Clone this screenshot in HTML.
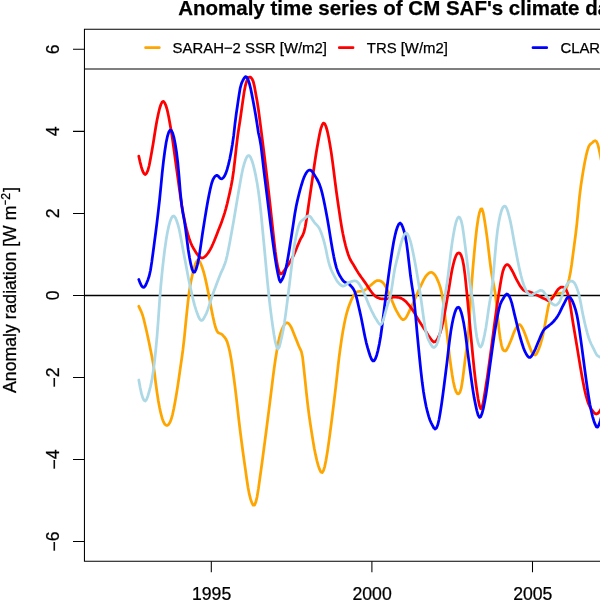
<!DOCTYPE html>
<html><head><meta charset="utf-8">
<style>
html,body{margin:0;padding:0;background:#fff;}
body{width:600px;height:600px;overflow:hidden;}
svg{display:block;will-change:transform;}
text{font-family:"Liberation Sans",sans-serif;fill:#000;stroke:#000;stroke-width:0.25;}
.ax{stroke:#000;stroke-width:1.05;fill:none;}
.cv{fill:none;stroke-width:2.75;stroke-linejoin:round;stroke-linecap:round;}
</style></head>
<body>
<svg width="600" height="600" viewBox="0 0 600 600">
<rect width="600" height="600" fill="#fff"/>
<!-- title -->
<text x="178.2" y="15.1" font-size="20.5" font-weight="bold">Anomaly time series of CM SAF's climate data records</text>
<!-- zero line -->
<line x1="84.5" y1="295.4" x2="600" y2="295.4" stroke="#000" stroke-width="1.5"/>
<!-- curves -->
<path class="cv" stroke="#FFA500" d="M138.8,306.3 L140.1,309.1 L141.4,311.9 L142.7,315.5 L144.0,320.2 L145.3,325.7 L146.6,331.3 L147.9,337.2 L149.2,343.3 L150.5,349.7 L151.8,356.0 L153.1,363.0 L154.4,372.0 L155.7,382.9 L157.0,392.4 L158.3,400.7 L159.6,407.8 L160.9,413.7 L162.2,418.4 L163.5,421.9 L164.8,424.2 L166.1,425.3 L167.4,425.4 L168.7,424.4 L170.0,422.3 L171.3,419.0 L172.6,414.3 L173.9,408.3 L175.2,401.3 L176.5,393.8 L177.8,385.6 L179.1,376.7 L180.4,367.6 L181.7,358.7 L183.0,349.2 L184.3,337.8 L185.6,324.5 L186.9,311.8 L188.2,299.9 L189.5,290.0 L190.8,282.2 L192.1,276.0 L193.4,270.6 L194.7,266.0 L196.0,262.5 L197.3,260.4 L198.6,260.1 L199.9,261.8 L201.2,264.8 L202.5,268.3 L203.8,272.5 L205.1,277.7 L206.4,283.4 L207.7,289.6 L209.0,296.0 L210.3,303.1 L211.6,310.2 L212.9,316.6 L214.2,322.3 L215.5,327.3 L216.8,330.8 L218.1,332.6 L219.4,333.3 L220.7,333.7 L222.0,334.4 L223.3,335.9 L224.6,337.3 L225.9,339.1 L227.2,341.9 L228.5,346.3 L229.8,351.8 L231.1,358.8 L232.4,367.2 L233.7,376.7 L235.0,386.6 L236.3,397.3 L237.6,408.8 L238.9,420.3 L240.2,431.2 L241.5,441.3 L242.8,451.0 L244.1,460.4 L245.4,469.4 L246.7,478.7 L248.0,487.3 L249.3,494.2 L250.6,499.2 L251.9,502.9 L253.2,505.2 L254.5,505.1 L255.8,502.1 L257.1,496.8 L258.4,488.9 L259.7,479.5 L261.0,470.3 L262.3,460.8 L263.6,451.0 L264.9,441.1 L266.2,431.2 L267.5,421.0 L268.8,410.8 L270.1,400.6 L271.4,390.2 L272.7,379.6 L274.0,369.4 L275.3,360.3 L276.6,352.1 L277.9,344.6 L279.2,338.4 L280.5,333.5 L281.8,329.8 L283.1,326.9 L284.4,324.7 L285.7,323.2 L287.0,322.7 L288.3,323.2 L289.6,324.6 L290.9,326.7 L292.2,329.4 L293.5,332.7 L294.8,336.1 L296.1,339.3 L297.4,342.4 L298.7,345.8 L300.0,348.7 L301.3,351.3 L302.6,357.3 L303.9,368.8 L305.2,381.2 L306.5,393.7 L307.8,405.1 L309.1,415.4 L310.4,424.4 L311.7,432.7 L313.0,440.9 L314.3,448.4 L315.6,454.9 L316.9,460.6 L318.2,465.4 L319.5,469.2 L320.8,472.0 L322.1,472.6 L323.4,470.8 L324.7,466.6 L326.0,460.3 L327.3,452.6 L328.6,443.6 L329.9,434.1 L331.2,424.3 L332.5,414.0 L333.8,403.4 L335.1,392.6 L336.4,381.3 L337.7,369.5 L339.0,358.2 L340.3,348.2 L341.6,339.3 L342.9,331.3 L344.2,324.2 L345.5,318.0 L346.8,312.8 L348.1,308.5 L349.4,304.7 L350.7,301.4 L352.0,298.6 L353.3,296.2 L354.6,294.2 L355.9,292.8 L357.2,291.9 L358.5,291.5 L359.8,291.3 L361.1,291.2 L362.4,291.0 L363.7,290.7 L365.0,290.0 L366.3,289.0 L367.6,287.9 L368.9,286.8 L370.2,285.7 L371.5,284.6 L372.8,283.5 L374.1,282.4 L375.4,281.4 L376.7,280.7 L378.0,280.5 L379.3,280.6 L380.6,281.0 L381.9,281.8 L383.2,283.0 L384.5,284.6 L385.8,286.8 L387.1,289.5 L388.4,292.3 L389.7,295.2 L391.0,298.2 L392.3,301.4 L393.6,304.6 L394.9,307.7 L396.2,310.3 L397.5,312.7 L398.8,315.0 L400.1,317.0 L401.4,318.6 L402.7,319.5 L404.0,319.5 L405.3,318.5 L406.6,316.7 L407.9,314.2 L409.2,311.4 L410.5,308.6 L411.8,306.0 L413.1,303.2 L414.4,300.3 L415.7,297.3 L417.0,294.2 L418.3,291.3 L419.6,288.4 L420.9,285.7 L422.2,282.9 L423.5,280.2 L424.8,277.8 L426.1,275.9 L427.4,274.4 L428.7,273.2 L430.0,272.5 L431.3,272.3 L432.6,272.8 L433.9,273.8 L435.2,275.4 L436.5,277.6 L437.8,280.6 L439.1,283.8 L440.4,287.6 L441.7,292.9 L443.0,300.4 L444.3,310.3 L445.6,321.2 L446.9,332.4 L448.2,344.3 L449.5,355.7 L450.8,365.5 L452.1,374.4 L453.4,382.0 L454.7,387.6 L456.0,391.5 L457.3,393.6 L458.6,393.9 L459.9,392.4 L461.2,388.4 L462.5,380.6 L463.8,370.4 L465.1,359.6 L466.4,350.4 L467.7,340.5 L469.0,325.7 L470.3,304.0 L471.6,284.7 L472.9,268.2 L474.2,253.3 L475.5,239.7 L476.8,228.0 L478.1,219.1 L479.4,212.7 L480.7,209.2 L482.0,208.9 L483.3,212.9 L484.6,220.4 L485.9,229.0 L487.2,238.4 L488.5,249.2 L489.8,260.3 L491.1,270.3 L492.4,278.2 L493.7,284.8 L495.0,292.2 L496.3,302.2 L497.6,315.8 L498.9,328.8 L500.2,338.3 L501.5,345.3 L502.8,349.5 L504.1,350.8 L505.4,351.0 L506.7,349.7 L508.0,347.2 L509.3,344.2 L510.6,341.3 L511.9,337.9 L513.2,334.3 L514.5,331.1 L515.8,328.6 L517.1,326.4 L518.4,324.9 L519.7,324.5 L521.0,325.7 L522.3,327.9 L523.6,330.5 L524.9,333.7 L526.2,337.3 L527.5,341.0 L528.8,344.5 L530.1,348.0 L531.4,351.2 L532.7,353.5 L534.0,354.8 L535.3,355.0 L536.6,353.7 L537.9,351.1 L539.2,347.9 L540.5,344.2 L541.8,339.7 L543.1,334.2 L544.4,327.7 L545.7,320.8 L547.0,313.6 L548.3,306.6 L549.6,301.5 L550.9,298.6 L552.2,297.0 L553.5,295.6 L554.8,294.5 L556.1,294.0 L557.4,293.8 L558.7,293.6 L560.0,293.3 L561.3,293.0 L562.6,292.8 L563.9,291.9 L565.2,290.2 L566.5,287.9 L567.8,284.2 L569.1,279.1 L570.4,272.6 L571.7,264.3 L573.0,254.4 L574.3,244.6 L575.6,234.7 L576.9,223.6 L578.2,210.3 L579.5,196.9 L580.8,186.3 L582.1,177.8 L583.4,169.8 L584.7,162.5 L586.0,156.2 L587.3,150.9 L588.6,146.8 L589.9,144.6 L591.2,143.5 L592.5,142.5 L593.8,141.2 L595.1,140.7 L596.4,141.4 L597.7,144.0 L599.0,149.1 L600.3,155.2 L601.6,162.0 L602.9,169.2"/>
<path class="cv" stroke="#FF0000" d="M138.8,156.2 L140.1,162.1 L141.4,167.2 L142.7,171.1 L144.0,173.7 L145.3,174.5 L146.6,173.3 L147.9,170.4 L149.2,165.5 L150.5,158.7 L151.8,151.4 L153.1,143.9 L154.4,135.7 L155.7,127.5 L157.0,120.2 L158.3,114.0 L159.6,108.5 L160.9,104.5 L162.2,101.9 L163.5,101.3 L164.8,103.0 L166.1,106.1 L167.4,110.7 L168.7,116.8 L170.0,123.9 L171.3,131.5 L172.6,140.0 L173.9,149.4 L175.2,158.9 L176.5,168.2 L177.8,177.6 L179.1,187.1 L180.4,196.4 L181.7,204.9 L183.0,212.5 L184.3,219.2 L185.6,225.3 L186.9,230.7 L188.2,235.5 L189.5,239.6 L190.8,243.0 L192.1,245.8 L193.4,248.2 L194.7,250.4 L196.0,252.5 L197.3,254.4 L198.6,255.9 L199.9,257.1 L201.2,257.8 L202.5,258.0 L203.8,257.5 L205.1,256.5 L206.4,255.1 L207.7,253.5 L209.0,251.6 L210.3,249.4 L211.6,246.8 L212.9,244.0 L214.2,241.0 L215.5,237.8 L216.8,234.4 L218.1,231.1 L219.4,227.7 L220.7,224.4 L222.0,220.9 L223.3,217.1 L224.6,213.1 L225.9,208.6 L227.2,203.6 L228.5,198.0 L229.8,192.4 L231.1,186.3 L232.4,179.2 L233.7,170.2 L235.0,159.1 L236.3,147.3 L237.6,136.5 L238.9,127.8 L240.2,119.5 L241.5,110.2 L242.8,101.1 L244.1,92.3 L245.4,85.5 L246.7,81.1 L248.0,78.3 L249.3,77.1 L250.6,77.2 L251.9,78.6 L253.2,81.4 L254.5,86.7 L255.8,93.9 L257.1,101.1 L258.4,109.2 L259.7,119.1 L261.0,129.1 L262.3,139.3 L263.6,149.7 L264.9,160.2 L266.2,170.9 L267.5,181.9 L268.8,193.2 L270.1,204.7 L271.4,216.7 L272.7,228.4 L274.0,240.3 L275.3,251.5 L276.6,260.6 L277.9,267.7 L279.2,271.9 L280.5,274.0 L281.8,273.7 L283.1,272.1 L284.4,270.4 L285.7,268.5 L287.0,266.6 L288.3,264.7 L289.6,262.7 L290.9,260.5 L292.2,258.2 L293.5,255.6 L294.8,252.6 L296.1,249.5 L297.4,246.3 L298.7,243.2 L300.0,240.1 L301.3,237.7 L302.6,235.5 L303.9,232.3 L305.2,227.0 L306.5,219.5 L307.8,210.7 L309.1,201.4 L310.4,192.7 L311.7,183.8 L313.0,174.7 L314.3,165.5 L315.6,156.7 L316.9,148.7 L318.2,141.4 L319.5,134.5 L320.8,128.8 L322.1,125.1 L323.4,123.1 L324.7,123.7 L326.0,126.5 L327.3,131.0 L328.6,137.0 L329.9,144.2 L331.2,152.1 L332.5,161.4 L333.8,171.5 L335.1,181.8 L336.4,191.8 L337.7,201.0 L339.0,209.9 L340.3,218.6 L341.6,226.7 L342.9,233.8 L344.2,239.9 L345.5,245.3 L346.8,250.0 L348.1,254.2 L349.4,257.6 L350.7,260.3 L352.0,262.6 L353.3,264.6 L354.6,266.7 L355.9,269.0 L357.2,271.1 L358.5,273.2 L359.8,275.1 L361.1,277.0 L362.4,278.8 L363.7,280.6 L365.0,282.4 L366.3,284.3 L367.6,286.3 L368.9,288.3 L370.2,290.2 L371.5,292.0 L372.8,293.7 L374.1,295.1 L375.4,296.3 L376.7,297.2 L378.0,297.8 L379.3,298.3 L380.6,298.6 L381.9,298.8 L383.2,298.9 L384.5,299.0 L385.8,299.0 L387.1,298.8 L388.4,298.5 L389.7,298.1 L391.0,297.7 L392.3,297.3 L393.6,297.0 L394.9,297.0 L396.2,297.1 L397.5,297.3 L398.8,297.5 L400.1,297.9 L401.4,298.4 L402.7,299.1 L404.0,300.0 L405.3,301.1 L406.6,302.3 L407.9,303.8 L409.2,305.4 L410.5,307.1 L411.8,308.9 L413.1,310.8 L414.4,312.9 L415.7,315.1 L417.0,317.4 L418.3,319.6 L419.6,321.8 L420.9,323.8 L422.2,325.7 L423.5,327.7 L424.8,329.6 L426.1,331.7 L427.4,333.9 L428.7,336.1 L430.0,337.9 L431.3,339.6 L432.6,341.1 L433.9,342.0 L435.2,341.7 L436.5,340.5 L437.8,338.5 L439.1,335.7 L440.4,332.1 L441.7,327.6 L443.0,321.9 L444.3,315.2 L445.6,308.0 L446.9,300.6 L448.2,293.2 L449.5,285.0 L450.8,276.8 L452.1,269.6 L453.4,264.0 L454.7,259.2 L456.0,255.6 L457.3,253.5 L458.6,252.9 L459.9,253.4 L461.2,255.3 L462.5,259.3 L463.8,265.9 L465.1,275.8 L466.4,288.3 L467.7,301.5 L469.0,315.4 L470.3,329.6 L471.6,343.2 L472.9,356.6 L474.2,369.5 L475.5,380.8 L476.8,390.3 L478.1,398.9 L479.4,405.5 L480.7,408.8 L482.0,407.6 L483.3,402.1 L484.6,394.2 L485.9,385.9 L487.2,377.8 L488.5,368.7 L489.8,359.2 L491.1,349.6 L492.4,339.9 L493.7,329.9 L495.0,320.1 L496.3,310.8 L497.6,301.9 L498.9,293.4 L500.2,285.2 L501.5,277.5 L502.8,271.5 L504.1,267.7 L505.4,265.6 L506.7,264.7 L508.0,264.7 L509.3,265.9 L510.6,268.0 L511.9,270.3 L513.2,272.7 L514.5,275.4 L515.8,278.2 L517.1,280.6 L518.4,282.9 L519.7,285.2 L521.0,287.2 L522.3,288.9 L523.6,290.2 L524.9,291.0 L526.2,291.4 L527.5,291.5 L528.8,291.7 L530.1,292.0 L531.4,292.5 L532.7,293.1 L534.0,293.7 L535.3,294.3 L536.6,295.0 L537.9,295.6 L539.2,296.2 L540.5,296.9 L541.8,297.5 L543.1,298.2 L544.4,298.7 L545.7,299.3 L547.0,300.0 L548.3,300.7 L549.6,300.7 L550.9,299.8 L552.2,298.3 L553.5,296.5 L554.8,294.4 L556.1,292.1 L557.4,290.2 L558.7,288.8 L560.0,287.7 L561.3,287.0 L562.6,287.0 L563.9,287.4 L565.2,288.4 L566.5,290.4 L567.8,293.8 L569.1,298.5 L570.4,305.8 L571.7,314.5 L573.0,322.7 L574.3,330.5 L575.6,338.2 L576.9,345.9 L578.2,353.9 L579.5,361.9 L580.8,369.6 L582.1,376.9 L583.4,383.8 L584.7,390.2 L586.0,395.6 L587.3,400.2 L588.6,404.0 L589.9,406.8 L591.2,409.0 L592.5,410.7 L593.8,412.4 L595.1,413.6 L596.4,414.0 L597.7,413.5 L599.0,412.2 L600.3,410.4 L601.6,408.0 L602.9,405.3"/>
<path class="cv" stroke="#0000FF" d="M138.8,279.5 L140.1,282.9 L141.4,285.6 L142.7,287.2 L144.0,287.4 L145.3,285.9 L146.6,283.1 L147.9,279.9 L149.2,276.0 L150.5,270.2 L151.8,261.9 L153.1,252.2 L154.4,242.4 L155.7,232.5 L157.0,222.2 L158.3,211.2 L159.6,199.5 L160.9,186.4 L162.2,172.9 L163.5,161.2 L164.8,151.2 L166.1,142.8 L167.4,136.5 L168.7,132.3 L170.0,130.2 L171.3,130.3 L172.6,132.8 L173.9,137.4 L175.2,143.7 L176.5,152.0 L177.8,162.7 L179.1,176.9 L180.4,193.1 L181.7,205.4 L183.0,213.5 L184.3,220.4 L185.6,229.0 L186.9,239.3 L188.2,249.5 L189.5,257.5 L190.8,264.2 L192.1,269.3 L193.4,272.2 L194.7,272.2 L196.0,269.5 L197.3,265.1 L198.6,259.4 L199.9,251.6 L201.2,242.6 L202.5,233.5 L203.8,225.3 L205.1,217.1 L206.4,209.2 L207.7,201.8 L209.0,195.1 L210.3,188.8 L211.6,183.5 L212.9,179.7 L214.2,177.4 L215.5,175.9 L216.8,175.3 L218.1,176.0 L219.4,177.5 L220.7,178.7 L222.0,178.8 L223.3,177.7 L224.6,175.9 L225.9,173.1 L227.2,169.2 L228.5,164.4 L229.8,158.7 L231.1,151.9 L232.4,144.5 L233.7,135.4 L235.0,123.7 L236.3,113.5 L237.6,104.8 L238.9,95.9 L240.2,88.1 L241.5,83.4 L242.8,80.5 L244.1,78.1 L245.4,76.6 L246.7,77.0 L248.0,79.4 L249.3,83.2 L250.6,88.3 L251.9,94.6 L253.2,101.6 L254.5,108.6 L255.8,115.9 L257.1,124.1 L258.4,132.8 L259.7,138.5 L261.0,146.0 L262.3,156.9 L263.6,168.4 L264.9,178.8 L266.2,189.2 L267.5,199.6 L268.8,210.1 L270.1,220.6 L271.4,230.8 L272.7,240.8 L274.0,250.4 L275.3,259.1 L276.6,266.9 L277.9,273.8 L279.2,279.5 L280.5,282.0 L281.8,280.0 L283.1,277.5 L284.4,274.1 L285.7,269.4 L287.0,263.1 L288.3,255.8 L289.6,247.8 L290.9,239.6 L292.2,231.3 L293.5,222.6 L294.8,214.0 L296.1,206.7 L297.4,200.6 L298.7,195.2 L300.0,190.2 L301.3,185.5 L302.6,181.3 L303.9,177.6 L305.2,174.7 L306.5,172.5 L307.8,170.9 L309.1,170.1 L310.4,170.1 L311.7,171.0 L313.0,172.7 L314.3,174.8 L315.6,176.9 L316.9,179.0 L318.2,181.5 L319.5,184.4 L320.8,188.2 L322.1,192.9 L323.4,198.5 L324.7,204.8 L326.0,211.6 L327.3,218.6 L328.6,226.1 L329.9,234.1 L331.2,242.2 L332.5,249.7 L333.8,256.6 L335.1,262.7 L336.4,267.6 L337.7,271.4 L339.0,274.3 L340.3,276.6 L341.6,278.6 L342.9,280.5 L344.2,281.8 L345.5,282.5 L346.8,283.0 L348.1,283.5 L349.4,284.3 L350.7,285.7 L352.0,287.1 L353.3,288.8 L354.6,291.3 L355.9,295.1 L357.2,300.1 L358.5,305.7 L359.8,311.4 L361.1,317.3 L362.4,323.7 L363.7,330.4 L365.0,336.9 L366.3,342.8 L367.6,347.7 L368.9,352.0 L370.2,356.0 L371.5,359.2 L372.8,360.9 L374.1,360.8 L375.4,358.8 L376.7,355.2 L378.0,350.3 L379.3,344.1 L380.6,336.7 L381.9,327.5 L383.2,317.2 L384.5,306.7 L385.8,296.8 L387.1,286.8 L388.4,276.9 L389.7,267.4 L391.0,258.5 L392.3,250.0 L393.6,242.3 L394.9,236.0 L396.2,230.7 L397.5,226.8 L398.8,224.0 L400.1,223.0 L401.4,224.2 L402.7,227.0 L404.0,231.0 L405.3,236.2 L406.6,243.4 L407.9,253.3 L409.2,264.7 L410.5,275.8 L411.8,284.9 L413.1,292.9 L414.4,303.1 L415.7,316.9 L417.0,331.6 L418.3,345.2 L419.6,358.5 L420.9,371.0 L422.2,382.3 L423.5,391.7 L424.8,399.6 L426.1,406.2 L427.4,411.7 L428.7,416.4 L430.0,420.2 L431.3,423.1 L432.6,425.6 L433.9,428.0 L435.2,429.1 L436.5,427.9 L437.8,424.7 L439.1,419.3 L440.4,411.7 L441.7,403.2 L443.0,393.8 L444.3,383.8 L445.6,373.5 L446.9,363.1 L448.2,351.9 L449.5,341.0 L450.8,331.6 L452.1,324.0 L453.4,317.8 L454.7,313.0 L456.0,309.6 L457.3,307.6 L458.6,307.2 L459.9,308.7 L461.2,312.2 L462.5,317.2 L463.8,323.6 L465.1,331.6 L466.4,341.5 L467.7,352.1 L469.0,362.1 L470.3,371.6 L471.6,381.1 L472.9,390.1 L474.2,398.1 L475.5,404.6 L476.8,410.5 L478.1,415.1 L479.4,417.4 L480.7,416.8 L482.0,413.6 L483.3,408.6 L484.6,402.3 L485.9,395.1 L487.2,386.2 L488.5,376.5 L489.8,366.8 L491.1,357.5 L492.4,348.0 L493.7,338.7 L495.0,330.3 L496.3,322.6 L497.6,315.5 L498.9,309.3 L500.2,304.5 L501.5,301.4 L502.8,299.2 L504.1,297.0 L505.4,295.0 L506.7,294.0 L508.0,294.6 L509.3,296.4 L510.6,299.3 L511.9,303.4 L513.2,308.8 L514.5,314.4 L515.8,319.7 L517.1,325.1 L518.4,330.5 L519.7,335.5 L521.0,340.0 L522.3,344.3 L523.6,348.2 L524.9,351.4 L526.2,354.0 L527.5,356.0 L528.8,357.3 L530.1,357.4 L531.4,356.2 L532.7,354.2 L534.0,351.8 L535.3,349.1 L536.6,346.0 L537.9,342.7 L539.2,339.7 L540.5,336.6 L541.8,333.6 L543.1,331.0 L544.4,329.2 L545.7,328.0 L547.0,327.1 L548.3,326.1 L549.6,325.0 L550.9,324.0 L552.2,322.9 L553.5,321.5 L554.8,320.0 L556.1,318.4 L557.4,316.5 L558.7,314.4 L560.0,311.9 L561.3,309.1 L562.6,306.4 L563.9,304.0 L565.2,301.3 L566.5,298.8 L567.8,297.1 L569.1,296.8 L570.4,297.7 L571.7,299.7 L573.0,302.4 L574.3,305.8 L575.6,309.9 L576.9,315.1 L578.2,322.0 L579.5,330.6 L580.8,339.9 L582.1,349.4 L583.4,359.3 L584.7,369.1 L586.0,378.7 L587.3,388.0 L588.6,396.5 L589.9,404.2 L591.2,410.8 L592.5,416.3 L593.8,420.7 L595.1,424.2 L596.4,426.9 L597.7,427.2 L599.0,424.7 L600.3,420.9 L601.6,416.0 L602.9,410.6"/>
<path class="cv" stroke="#ADD8E6" d="M138.8,380.0 L140.1,387.3 L141.4,393.4 L142.7,397.7 L144.0,400.3 L145.3,401.0 L146.6,399.3 L147.9,395.9 L149.2,391.5 L150.5,386.5 L151.8,380.4 L153.1,372.6 L154.4,362.6 L155.7,350.6 L157.0,336.6 L158.3,319.8 L159.6,300.9 L160.9,284.9 L162.2,271.4 L163.5,259.6 L164.8,249.1 L166.1,240.1 L167.4,232.5 L168.7,226.4 L170.0,221.7 L171.3,218.3 L172.6,216.4 L173.9,216.0 L175.2,217.4 L176.5,220.3 L177.8,224.2 L179.1,229.0 L180.4,235.2 L181.7,242.2 L183.0,249.4 L184.3,256.3 L185.6,263.1 L186.9,270.1 L188.2,276.9 L189.5,283.4 L190.8,289.4 L192.1,295.2 L193.4,300.6 L194.7,305.6 L196.0,309.9 L197.3,313.6 L198.6,317.0 L199.9,319.4 L201.2,320.5 L202.5,320.1 L203.8,318.4 L205.1,315.9 L206.4,313.3 L207.7,310.0 L209.0,306.1 L210.3,301.9 L211.6,297.8 L212.9,294.0 L214.2,290.4 L215.5,286.9 L216.8,283.5 L218.1,280.0 L219.4,276.7 L220.7,273.4 L222.0,270.6 L223.3,267.8 L224.6,264.6 L225.9,260.6 L227.2,255.3 L228.5,249.1 L229.8,242.3 L231.1,235.2 L232.4,228.1 L233.7,220.7 L235.0,212.9 L236.3,205.2 L237.6,197.5 L238.9,190.1 L240.2,182.5 L241.5,175.2 L242.8,169.0 L244.1,164.1 L245.4,160.1 L246.7,157.2 L248.0,155.7 L249.3,155.7 L250.6,157.4 L251.9,160.5 L253.2,164.7 L254.5,169.9 L255.8,175.9 L257.1,182.9 L258.4,191.3 L259.7,201.2 L261.0,213.2 L262.3,226.6 L263.6,240.3 L264.9,254.0 L266.2,268.2 L267.5,282.2 L268.8,295.0 L270.1,306.4 L271.4,316.7 L272.7,326.0 L274.0,334.7 L275.3,341.9 L276.6,346.7 L277.9,349.0 L279.2,347.1 L280.5,342.3 L281.8,336.8 L283.1,330.4 L284.4,322.9 L285.7,313.9 L287.0,303.8 L288.3,293.4 L289.6,283.1 L290.9,272.1 L292.2,261.1 L293.5,251.2 L294.8,243.0 L296.1,236.2 L297.4,230.6 L298.7,226.0 L300.0,222.8 L301.3,221.0 L302.6,220.0 L303.9,219.1 L305.2,217.9 L306.5,216.8 L307.8,216.0 L309.1,215.8 L310.4,216.7 L311.7,218.4 L313.0,220.4 L314.3,222.3 L315.6,223.8 L316.9,225.1 L318.2,226.6 L319.5,228.8 L320.8,231.8 L322.1,235.3 L323.4,239.4 L324.7,244.2 L326.0,249.8 L327.3,256.3 L328.6,261.9 L329.9,266.3 L331.2,269.8 L332.5,272.7 L333.8,275.2 L335.1,277.6 L336.4,279.9 L337.7,281.9 L339.0,283.5 L340.3,284.7 L341.6,285.6 L342.9,286.1 L344.2,285.9 L345.5,285.1 L346.8,284.1 L348.1,283.1 L349.4,282.2 L350.7,281.8 L352.0,281.4 L353.3,281.0 L354.6,280.8 L355.9,281.0 L357.2,281.7 L358.5,283.1 L359.8,285.0 L361.1,287.3 L362.4,289.7 L363.7,292.4 L365.0,295.4 L366.3,298.6 L367.6,301.8 L368.9,304.9 L370.2,307.8 L371.5,310.6 L372.8,313.2 L374.1,315.7 L375.4,318.0 L376.7,320.0 L378.0,322.2 L379.3,324.0 L380.6,324.7 L381.9,323.4 L383.2,320.3 L384.5,315.9 L385.8,311.0 L387.1,306.4 L388.4,302.6 L389.7,298.8 L391.0,292.9 L392.3,284.6 L393.6,275.8 L394.9,268.2 L396.2,262.7 L397.5,257.7 L398.8,252.3 L400.1,246.8 L401.4,242.0 L402.7,238.2 L404.0,235.2 L405.3,233.3 L406.6,233.2 L407.9,234.7 L409.2,237.6 L410.5,241.5 L411.8,246.7 L413.1,252.8 L414.4,259.3 L415.7,266.2 L417.0,273.7 L418.3,281.6 L419.6,289.7 L420.9,298.2 L422.2,307.7 L423.5,317.3 L424.8,326.0 L426.1,332.7 L427.4,337.2 L428.7,340.4 L430.0,342.9 L431.3,345.2 L432.6,346.9 L433.9,347.5 L435.2,346.8 L436.5,345.0 L437.8,341.8 L439.1,337.1 L440.4,330.4 L441.7,319.7 L443.0,307.9 L444.3,298.6 L445.6,292.3 L446.9,284.6 L448.2,274.7 L449.5,263.6 L450.8,252.6 L452.1,242.9 L453.4,234.9 L454.7,227.7 L456.0,222.2 L457.3,218.6 L458.6,217.0 L459.9,217.7 L461.2,220.7 L462.5,226.4 L463.8,235.4 L465.1,245.4 L466.4,255.7 L467.7,266.7 L469.0,277.4 L470.3,286.6 L471.6,293.9 L472.9,302.8 L474.2,315.5 L475.5,328.3 L476.8,337.0 L478.1,342.8 L479.4,346.1 L480.7,347.0 L482.0,345.0 L483.3,340.5 L484.6,334.6 L485.9,327.8 L487.2,319.1 L488.5,309.7 L489.8,301.4 L491.1,294.7 L492.4,284.5 L493.7,270.5 L495.0,255.2 L496.3,240.8 L497.6,229.7 L498.9,221.6 L500.2,215.3 L501.5,210.6 L502.8,207.5 L504.1,206.1 L505.4,206.3 L506.7,208.4 L508.0,212.1 L509.3,217.0 L510.6,222.4 L511.9,229.0 L513.2,236.4 L514.5,243.8 L515.8,250.6 L517.1,257.5 L518.4,264.1 L519.7,270.2 L521.0,275.5 L522.3,280.3 L523.6,284.5 L524.9,287.9 L526.2,290.7 L527.5,292.7 L528.8,294.1 L530.1,295.0 L531.4,295.2 L532.7,294.6 L534.0,293.7 L535.3,292.8 L536.6,292.3 L537.9,291.6 L539.2,290.9 L540.5,290.4 L541.8,290.5 L543.1,291.2 L544.4,292.8 L545.7,294.7 L547.0,296.7 L548.3,298.6 L549.6,300.6 L550.9,302.4 L552.2,303.7 L553.5,304.6 L554.8,305.2 L556.1,305.1 L557.4,304.3 L558.7,303.0 L560.0,300.9 L561.3,297.8 L562.6,293.9 L563.9,290.3 L565.2,287.6 L566.5,285.2 L567.8,283.2 L569.1,281.9 L570.4,281.2 L571.7,281.1 L573.0,281.6 L574.3,282.8 L575.6,285.0 L576.9,288.1 L578.2,291.9 L579.5,296.9 L580.8,303.3 L582.1,310.4 L583.4,316.9 L584.7,322.7 L586.0,328.2 L587.3,333.1 L588.6,337.5 L589.9,341.0 L591.2,344.0 L592.5,346.6 L593.8,349.2 L595.1,351.9 L596.4,354.3 L597.7,355.9 L599.0,356.6 L600.3,357.1 L601.6,357.5 L602.9,358.0"/>
<!-- box -->
<path class="ax" d="M610,29.3 H84.45 V561.3 H610"/>
<line class="ax" x1="84.45" y1="68.9" x2="610" y2="68.9"/>
<!-- y ticks -->
<path class="ax" d="M73,49.3H84.5 M73,131.35H84.5 M73,213.4H84.5 M73,295.4H84.5 M73,377.45H84.5 M73,459.5H84.5 M73,541.55H84.5"/>
<!-- x ticks -->
<path class="ax" d="M211.3,561.3V572.3 M371.9,561.3V572.3 M532.5,561.3V572.3"/>
<!-- y tick labels -->
<g font-size="17.65" text-anchor="middle">
<text transform="translate(58.7,49.3) rotate(-90)">6</text>
<text transform="translate(58.7,131.35) rotate(-90)">4</text>
<text transform="translate(58.7,213.4) rotate(-90)">2</text>
<text transform="translate(58.7,295.4) rotate(-90)">0</text>
<text transform="translate(58.7,377.45) rotate(-90)"><tspan dy="1.2">−</tspan><tspan dy="-1.2">2</tspan></text>
<text transform="translate(58.7,459.5) rotate(-90)"><tspan dy="1.2">−</tspan><tspan dy="-1.2">4</tspan></text>
<text transform="translate(58.7,541.55) rotate(-90)"><tspan dy="1.2">−</tspan><tspan dy="-1.2">6</tspan></text>
</g>
<!-- x tick labels -->
<g font-size="17.65" text-anchor="middle">
<text x="211.6" y="600">1995</text>
<text x="372.1" y="600">2000</text>
<text x="532.8" y="600">2005</text>
</g>
<!-- y label -->
<text transform="translate(16.4,392.9) rotate(-90)" font-size="17.65">Anomaly radiation [W m<tspan font-size="8.6" dy="-8.7" dx="0.3" stroke-width="0.5">−</tspan><tspan font-size="12.3" dy="2.3" dx="0.5">2</tspan><tspan dy="6.4" dx="1.05">]</tspan></text>
<!-- legend -->
<g font-size="14.9">
<line x1="145.6" y1="47.7" x2="159.3" y2="47.7" stroke="#FFA500" stroke-width="2.75" stroke-linecap="round"/>
<text x="172.6" y="52.5">SARAH−2 SSR [W/m2]</text>
<line x1="339.3" y1="47.7" x2="353" y2="47.7" stroke="#FF0000" stroke-width="2.75" stroke-linecap="round"/>
<text x="366.8" y="52.5">TRS [W/m2]</text>
<line x1="533" y1="47.7" x2="546.7" y2="47.7" stroke="#0000FF" stroke-width="2.75" stroke-linecap="round"/>
<text x="560.4" y="52.5">CLARA SIS [W/m2]</text>
</g>
</svg>
</body></html>
